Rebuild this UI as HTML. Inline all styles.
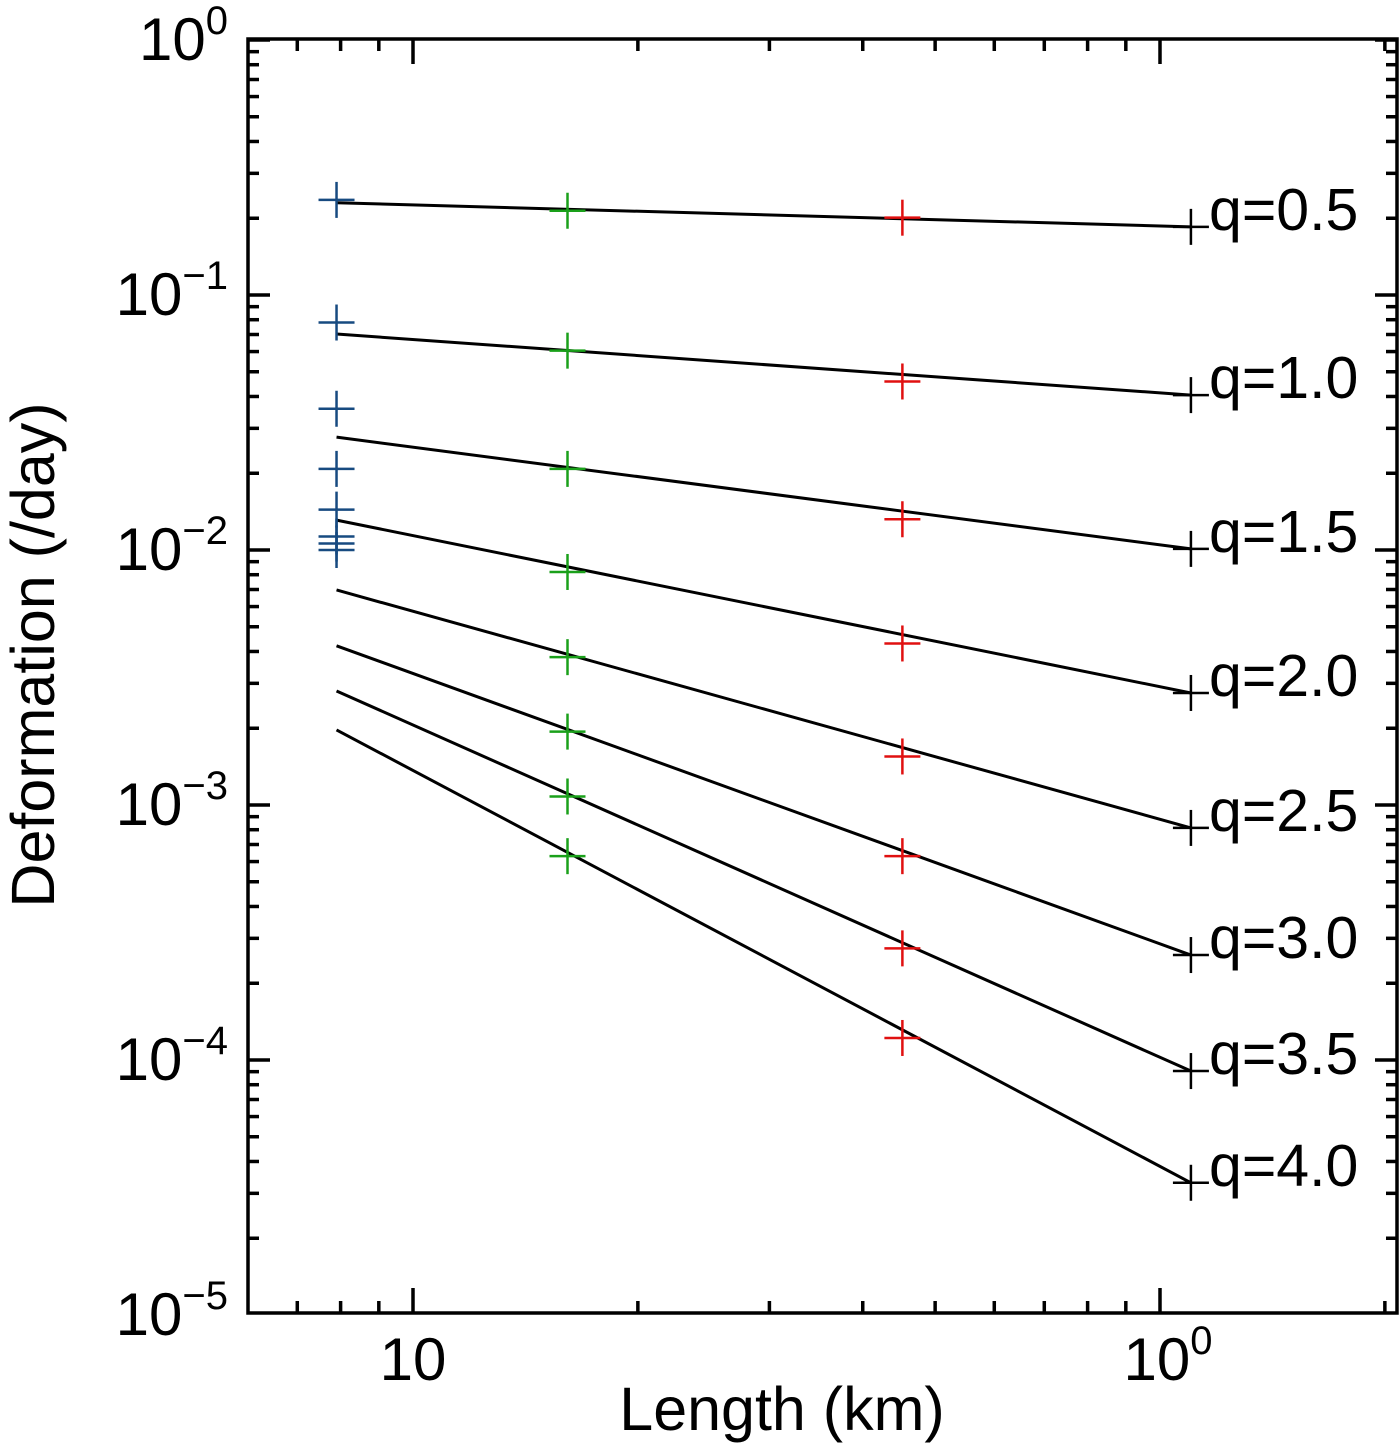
<!DOCTYPE html>
<html><head><meta charset="utf-8"><style>
html,body{margin:0;padding:0;background:#fff}
svg{display:block}
text{font-family:"Liberation Sans",Arial,sans-serif;fill:#000}
</style></head><body>
<svg id="chart" width="1400" height="1443" viewBox="0 0 1400 1443" xmlns="http://www.w3.org/2000/svg">
<g id="axes"></g>
<g id="series"></g>
<text x="782" y="1430" font-size="61" text-anchor="middle">Length (km)</text>
<text transform="translate(54,655) rotate(-90)" font-size="61" text-anchor="middle">Deformation (/day)</text>
</svg>
<script>
const lengths = [7.9, 16.1, 45.2, 110];
const qLabels = ["q=0.5","q=1.0","q=1.5","q=2.0","q=2.5","q=3.0","q=3.5","q=4.0"];
const lineStart = [0.230, 0.0703, 0.0277, 0.0131, 0.00697, 0.00421, 0.0028, 0.00197];
const lineEnd = [0.185, 0.0405, 0.0101, 0.00275, 0.000813, 0.000258, 9.05e-5, 3.3e-5];
const blueVals = [0.236, 0.078, 0.0358, 0.0208, 0.0144, 0.0113, 0.0106, 0.0100];
const greenVals = [0.214, 0.0605, 0.0208, 0.0082, 0.0038, 0.00194, 0.00108, 0.00063];
const redVals = [0.201, 0.0458, 0.0132, 0.0043, 0.00155, 0.00063, 0.000274, 0.000122];
const blackVals = lineEnd;
const yTickExps = [0,-1,-2,-3,-4,-5];
const xTickVals = [10, 100];
const xTickLabels = [["10",""],["10","0"]];

const NS="http://www.w3.org/2000/svg";
const L=248,R=1397,T=39,B=1313;
const xs=v=>413+747*(Math.log10(v)-1);
const ys=v=>40-255*Math.log10(v);
function mk(tag,attrs,parent){const e=document.createElementNS(NS,tag);for(const k in attrs)e.setAttribute(k,attrs[k]);parent.appendChild(e);return e;}
const ax=document.getElementById('axes'), se=document.getElementById('series');
const frame=mk('rect',{x:L,y:T,width:R-L,height:B-T,fill:'none',stroke:'#000','stroke-width':3.5},ax);


for(let e=0;e>=-5;e--){
  for(let m=1;m<=9;m++){
    let val = m===1?Math.pow(10,e):m*Math.pow(10,e-1);
    const y=ys(val); if(y<T-1||y>B+1)continue;
    const len=m===1?22:11;
    mk('line',{x1:L,x2:L+len,y1:y,y2:y,stroke:'#000','stroke-width':3.5},ax);
    mk('line',{x1:R,x2:R-len,y1:y,y2:y,stroke:'#000','stroke-width':3.5},ax);
  }
}
yTickExps.forEach(e=>{
  const t=mk('text',{x:228,y:ys(Math.pow(10,e))+20,'font-size':60,'text-anchor':'end'},ax);
  
  
  t.textContent='10';
  const s=mk('tspan',{dy:-26,'font-size':40},t);
  s.textContent=e===0?'0':'\u2212'+(-e);
});
for(let d=0;d<=2;d++){
  for(let m=1;m<=9;m++){
    const v=m*Math.pow(10,d);
    const x=xs(v); if(x<L||x>R)continue;
    const len=m===1?25:12;
    mk('line',{x1:x,x2:x,y1:B,y2:B-len,stroke:'#000','stroke-width':3.5},ax);
    mk('line',{x1:x,x2:x,y1:T,y2:T+len,stroke:'#000','stroke-width':3.5},ax);
  }
}
xTickVals.forEach((v,i)=>{
  const t=mk('text',{x:xs(v)+(i?8:0),y:1380,'font-size':60,'text-anchor':'middle'},ax);
  
  
  t.textContent=xTickLabels[i][0];
  if(xTickLabels[i][1]){const s=mk('tspan',{dy:-26,'font-size':40},t);s.textContent=xTickLabels[i][1];}
});
qLabels.forEach((q,i)=>{
  const ln=mk('line',{x1:xs(lengths[0]),y1:ys(lineStart[i]),x2:xs(lengths[3]),y2:ys(lineEnd[i]),stroke:'#000','stroke-width':3},se);
  
  
  const t=mk('text',{x:1209,y:ys(lineEnd[i])+3,'font-size':59},se);
  
  
  t.textContent=q;
});
function cross(x,y,c){
  const g=mk('g',{stroke:c,'stroke-width':2.5},se);
  
  
  mk('line',{x1:x-18,x2:x+18,y1:y,y2:y},g);
  mk('line',{x1:x,x2:x,y1:y-18,y2:y+18},g);
}
[[blueVals,'#174a80'],[greenVals,'#1aa01a'],[redVals,'#e01010'],[blackVals,'#000']].forEach(([vals,c],j)=>{
  vals.forEach(v=>cross(xs(lengths[j]),ys(v),c));
});
</script>
</body></html>
